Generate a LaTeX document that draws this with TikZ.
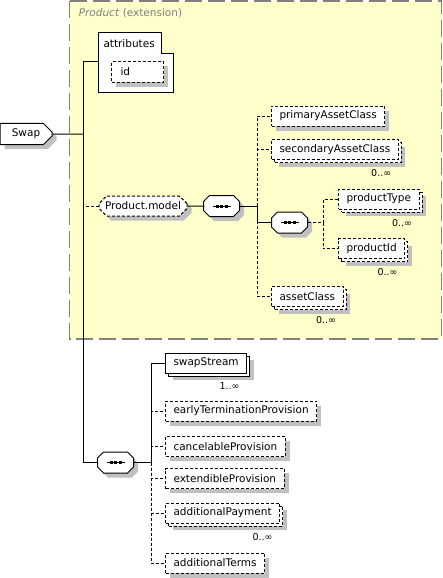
\documentclass[tikz,border=0pt]{standalone}
\usepackage{fontspec}
\setmainfont{DejaVu Sans}
\usetikzlibrary{shapes.misc,shadows}
\definecolor{prodyellow}{RGB}{255,255,204}
\definecolor{shadegray}{RGB}{192,192,192}
\definecolor{groupgray}{RGB}{128,128,128}
\tikzset{
  elem/.style={draw, fill=white, rectangle, anchor=west, minimum height=20pt,
    inner xsep=8pt, inner ysep=2pt, font=\fontsize{10.5}{12}\selectfont},
  single/.style={drop shadow={shadow xshift=4.5pt, shadow yshift=-4.5pt,
    fill=shadegray, opacity=1}},
  multi/.style={drop shadow={shadow xshift=7pt, shadow yshift=-7pt,
    fill=shadegray, opacity=1},
    general shadow={shadow xshift=3pt, shadow yshift=-3pt, draw, fill=white}},
  opt/.style={dash pattern=on 3pt off 2pt},
  occ/.style={anchor=north east, inner sep=0pt, font=\fontsize{9.5}{11}\selectfont},
  seqbox/.style={rectangle, minimum width=35pt, minimum height=20pt, inner sep=0pt},
}
\begin{document}
\begin{tikzpicture}[x=1pt, y=-1pt, line width=1pt]
\useasboundingbox (0,0) rectangle (443,578);
% Product extension group
\draw[draw=groupgray, fill=prodyellow, line width=1.5pt, dash pattern=on 17pt off 6pt]
  (69.5,0.8) rectangle (441.5,339);
\node[anchor=west, text=groupgray, font=\fontsize{10.5}{12}\selectfont] (ttl) at (75,13)
  {\textit{Product} (extension)};
% attributes
\draw[fill=white] (98,33) -- (161,33) -- (161,54) -- (173,54) -- (173,92) -- (98,92) -- cycle;
\node[anchor=west, inner sep=0pt, font=\fontsize{10.5}{12}\selectfont] (attrlbl) at (103,43.5) {attributes};
\node[elem, opt, single, text width=34pt, align=left, inner xsep=9pt] (id) at (111,72) {id};
\coordinate (attr) at (98,62);
% root
\node[chamfered rectangle, chamfered rectangle corners={north east,south east},
  chamfered rectangle xsep=5pt, draw, fill=white, single, minimum width=52pt,
  minimum height=21pt, inner sep=2pt, font=\fontsize{10.5}{12}\selectfont] (swap) at (26,134) {Swap};
\coordinate (mb) at (83,134);
% Product.model
\node[chamfered rectangle, chamfered rectangle xsep=4pt, draw, fill=white, opt, single,
  minimum width=88pt, minimum height=20pt, inner xsep=2pt, inner ysep=2pt,
  font=\fontsize{10.5}{12}\selectfont] (pm) at (143,206) {Product.model};
\node[seqbox] (seq1) at (221.5,206) {};
\coordinate (b1) at (257,206);
\node[elem, opt, single] (pac) at (271,116) {primaryAssetClass};
\node[elem, opt, multi] (sac) at (271,149.5) {secondaryAssetClass};
\node[occ] (sacocc) at ([xshift=-7pt,yshift=-9pt]sac.south east) {0..∞};
\node[seqbox] (seq2) at (289.5,222.5) {};
\coordinate (b2) at (323,222.5);
\node[elem, opt, multi] (ptype) at (338,199) {productType};
\node[occ] (ptypeocc) at ([xshift=-7pt,yshift=-9pt]ptype.south east) {0..∞};
\node[elem, opt, multi] (pid) at (338,248.5) {productId};
\node[occ] (pidocc) at ([xshift=-7pt,yshift=-9pt]pid.south east) {0..∞};
\node[elem, opt, multi] (acls) at (271,296.5) {assetClass};
\node[occ] (aclsocc) at ([xshift=-7pt,yshift=-9pt]acls.south east) {0..∞};
% swap sequence
\node[seqbox] (seq3) at (115.5,462.5) {};
\coordinate (b3) at (151,462.5);
\node[elem, multi] (sws) at (165,363) {swapStream};
\node[occ] (swsocc) at ([xshift=-7pt,yshift=-9pt]sws.south east) {1..∞};
\node[elem, opt, single] (etp) at (165,411) {earlyTerminationProvision};
\node[elem, opt, single] (cnp) at (165,446.5) {cancelableProvision};
\node[elem, opt, single] (exp) at (165,478.5) {extendibleProvision};
\node[elem, opt, multi] (adp) at (165,513) {additionalPayment};
\node[occ] (adpocc) at ([xshift=-7pt,yshift=-9pt]adp.south east) {0..∞};
\node[elem, opt, single] (adt) at (165,563) {additionalTerms};
% sequence compositors
\foreach \s in {seq1,seq2,seq3} {
  \draw[fill=white, single] ([xshift=6pt]\s.north west) -- ([xshift=-6pt]\s.north east)
    -- ([yshift=-6pt]\s.north east) -- ([yshift=6pt]\s.south east)
    -- ([xshift=-6pt]\s.south east) -- ([xshift=6pt]\s.south west)
    -- ([yshift=6pt]\s.south west) -- ([yshift=-6pt]\s.north west) -- cycle;
  \draw ([xshift=-9pt]\s.center) -- ([xshift=9pt]\s.center);
  \foreach \dx in {-4.5,0,4.5}
    \fill ([xshift=\dx pt]\s.center) +(-1.5,-1.5) rectangle +(1.5,1.5);
}
% connectors
\draw (swap) -- (mb);
\draw (mb) |- (attr);
\draw[opt] (mb) |- (pm.west);
\draw (mb) |- (seq3.west);
\draw (pm) -- (seq1);
\draw (seq1) -- (b1);
\draw[opt] (b1) |- (pac.west);
\draw[opt] (b1) |- (sac.west);
\draw (b1) |- (seq2.west);
\draw[opt] (b1) |- (acls.west);
\draw[opt] (seq2) -- (b2);
\draw[opt] (b2) |- (ptype.west);
\draw[opt] (b2) |- (pid.west);
\draw (seq3) -- (b3);
\draw (b3) |- (sws.west);
\draw[opt] (b3) |- (etp.west);
\draw[opt] (b3) |- (cnp.west);
\draw[opt] (b3) |- (exp.west);
\draw[opt] (b3) |- (adp.west);
\draw[opt] (b3) |- (adt.west);
\end{tikzpicture}
\end{document}
